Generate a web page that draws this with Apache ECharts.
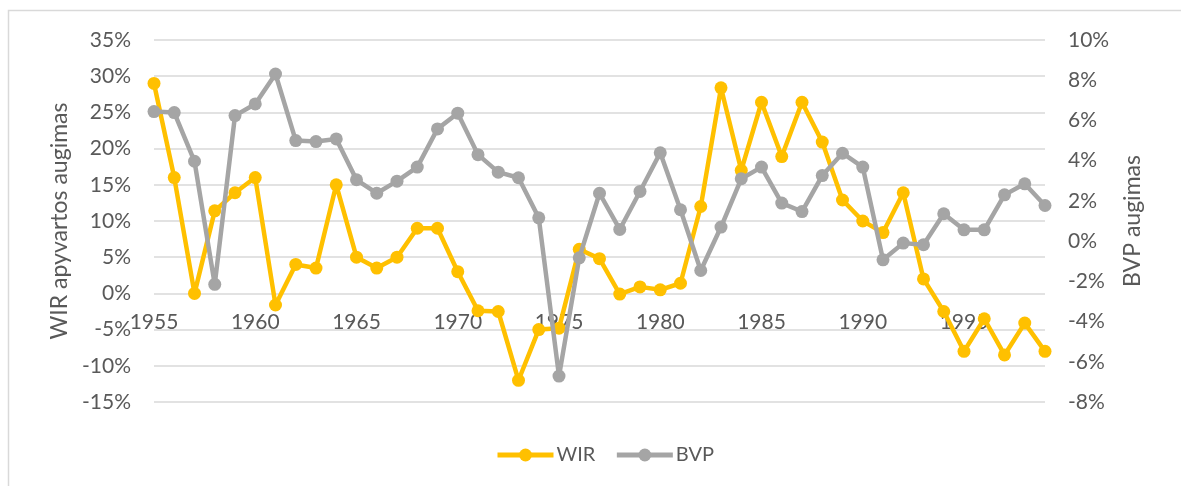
<!DOCTYPE html>
<html>
<head>
<meta charset="utf-8">
<script src="https://cdn.jsdelivr.net/npm/echarts@6/dist/echarts.min.js"></script>
<style>
html,body{margin:0;padding:0;background:#fff;}
#c{width:1181px;height:486px;}
</style>
</head>
<body>
<div id="c"></div>
<script>
const years = [];
for (let y = 1955; y <= 1999; y++) years.push(String(y));

const wir = [29.0, 16.0, 0.0, 11.4, 13.9, 16.0, -1.6, 4.0, 3.5, 15.0,
  5.0, 3.5, 5.0, 9.0, 9.0, 3.0, -2.4, -2.5, -12.0, -5.0,
  -4.8, 6.1, 4.8, -0.1, 0.9, 0.5, 1.4, 12.0, 28.4, 17.0,
  26.4, 18.9, 26.4, 20.9, 12.9, 10.0, 8.4, 13.9, 2.0, -2.5,
  -8.0, -3.5, -8.5, -4.1, -8.0];

const bvp = [6.44, 6.39, 3.97, -2.15, 6.24, 6.82, 8.31, 5.0, 4.95, 5.08,
  3.05, 2.38, 2.98, 3.68, 5.58, 6.36, 4.30, 3.43, 3.15, 1.16,
  -6.71, -0.83, 2.38, 0.58, 2.47, 4.39, 1.56, -1.46, 0.70, 3.10,
  3.68, 1.89, 1.47, 3.26, 4.37, 3.68, -0.93, -0.10, -0.18, 1.36,
  0.56, 0.56, 2.30, 2.85, 1.77];

const seriesNames = ['WIR', 'BVP'];
const leftAxisName = 'WIR apyvartos augimas';
const rightAxisName = 'BVP augimas';

const FONT = 'Lato';
const TXT = '#595959';
const GRID = '#d9d9d9';

const GRID_TOP = 40, GRID_BOTTOM = 84, H = 486;
const LEFT_MIN = -15, LEFT_MAX = 35;
// place the category axis at the 0% line of the left axis
const plotH = H - GRID_TOP - GRID_BOTTOM;
const zeroOffset = -plotH * (0 - LEFT_MIN) / (LEFT_MAX - LEFT_MIN);

const chart = echarts.init(document.getElementById('c'));
chart.setOption({
  animation: false,
  backgroundColor: '#ffffff',
  textStyle: { fontFamily: FONT },
  graphic: [{
    type: 'rect',
    shape: { x: 8.5, y: 10.5, width: 1200, height: 500 },
    style: { fill: 'none', stroke: GRID, lineWidth: 1.5 },
    silent: true, z: -10
  }],
  grid: { left: 154, right: 136, top: GRID_TOP, bottom: GRID_BOTTOM },
  legend: {
    bottom: 16,
    left: 490,
    itemWidth: 56,
    itemHeight: 16,
    itemGap: 19,
    lineStyle: { width: 5 },
    textStyle: { fontFamily: FONT, fontSize: 20, color: TXT, padding: [0, 0, 0, -2] },
    data: seriesNames
  },
  xAxis: {
    type: 'category',
    data: years,
    boundaryGap: false,
    offset: zeroOffset,
    axisLine: { show: false, onZero: false },
    axisTick: { show: false },
    splitLine: { show: false },
    axisLabel: { interval: 4, margin: 18, fontFamily: FONT, fontSize: 21, color: TXT }
  },
  yAxis: [{
    type: 'value',
    min: LEFT_MIN, max: LEFT_MAX, interval: 5,
    name: leftAxisName,
    nameLocation: 'middle',
    nameRotate: 90,
    nameGap: 80,
    nameTextStyle: { fontFamily: FONT, fontSize: 23, color: TXT },
    axisLine: { show: false },
    axisTick: { show: false },
    axisLabel: { formatter: '{value}%', margin: 23, fontFamily: FONT, fontSize: 21, color: TXT },
    splitLine: { show: true, lineStyle: { color: GRID, width: 1.5 } }
  }, {
    type: 'value',
    min: -8, max: 10, interval: 2,
    name: rightAxisName,
    nameLocation: 'middle',
    nameRotate: 90,
    nameGap: 76,
    nameTextStyle: { fontFamily: FONT, fontSize: 23, color: TXT },
    axisLine: { show: false },
    axisTick: { show: false },
    axisLabel: { formatter: '{value}%', margin: 23, fontFamily: FONT, fontSize: 21, color: TXT },
    splitLine: { show: false }
  }],
  series: [{
    name: seriesNames[0],
    type: 'line',
    yAxisIndex: 0,
    data: wir,
    symbol: 'circle',
    symbolSize: 13,
    lineStyle: { color: '#FFC000', width: 4.5 },
    itemStyle: { color: '#FFC000' },
    z: 2
  }, {
    name: seriesNames[1],
    type: 'line',
    yAxisIndex: 1,
    data: bvp,
    symbol: 'circle',
    symbolSize: 13,
    lineStyle: { color: '#A5A5A5', width: 4.5 },
    itemStyle: { color: '#A5A5A5' },
    z: 3
  }]
});
</script>
</body>
</html>
